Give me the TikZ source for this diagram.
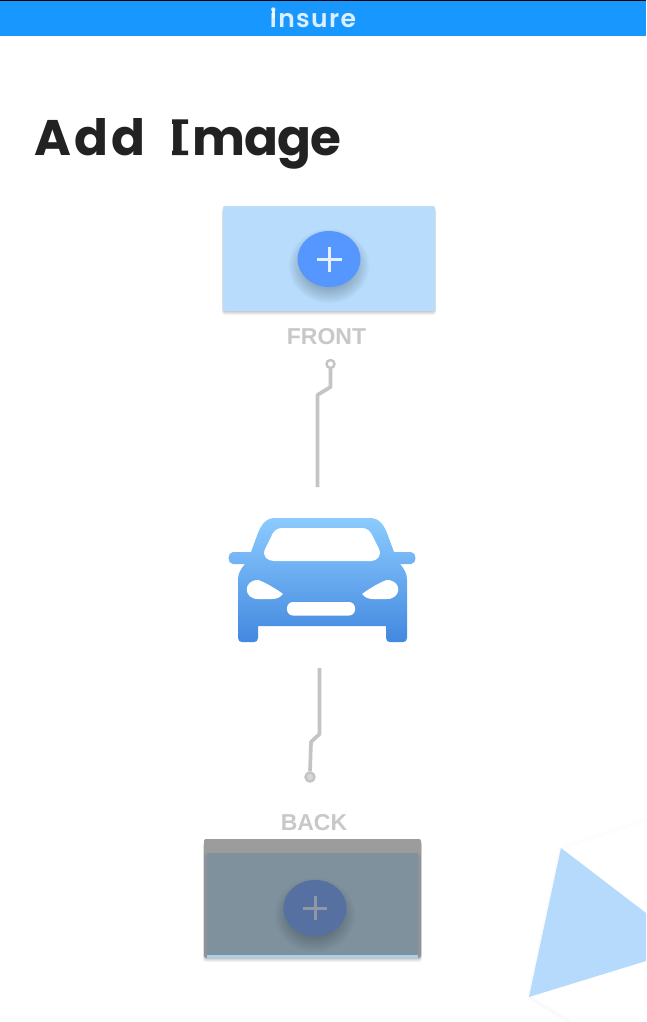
\documentclass[tikz,border=0pt]{standalone}
\usepackage{fontspec}
\setmainfont{Liberation Sans}
\newfontfamily\titlefont{Poppins}
\newfontfamily\brandfont{Poppins SemiBold}[LetterSpace=5.6]
\usetikzlibrary{shapes.geometric}
\definecolor{barblue}{HTML}{1897FF}
\definecolor{cardblue}{HTML}{B8DDFC}
\definecolor{fabblue}{HTML}{5596FF}
\definecolor{wiregray}{HTML}{C4C4C4}
\definecolor{labelgray}{HTML}{C8C8C8}
\definecolor{dimcard}{HTML}{7E919D}
\definecolor{dimedge}{HTML}{8F9399}
\definecolor{dimtop}{HTML}{9C9C9C}
\definecolor{dimfab}{HTML}{5570A1}
\definecolor{dimplus}{HTML}{8E98A6}
\definecolor{carhi}{HTML}{8CCBFF}
\definecolor{carlo}{HTML}{4288DF}
\definecolor{triblue}{HTML}{B5DAFC}
\definecolor{inktitle}{HTML}{222222}
\tikzset{
  x=1pt,y=-1pt,
  wire/.style={draw=wiregray,line width=3.7pt,line join=round},
  pad/.style={circle,draw=wiregray,line width=2.4pt,fill=white,inner sep=0pt,minimum size=8pt},
  sidelabel/.style={text=labelgray,font=\bfseries\fontsize{23}{23}\selectfont,inner sep=0pt},
  fab/.style={ellipse,inner sep=0pt,minimum width=63pt,minimum height=56pt},
  plusmark/.style={line width=3pt},
}
\newcommand{\softrect}[4]{%
  \foreach \s in {1,...,5}{
    \fill[black,opacity=0.045,rounded corners=3pt] (#1-\s*0.2,#2+\s*0.5) rectangle (#3+\s*0.2,#4+\s*0.8);
  }}
\newcommand{\softfab}[3]{%
  \foreach \s in {1,...,12}{
    \fill[black,opacity=#3] (#1,#2+7) ellipse [x radius=21+\s*1.6,y radius=18+\s*1.6];
  }}
\begin{document}
\begin{tikzpicture}
\useasboundingbox (0,0) rectangle (646,1022);
\fill[white] (0,0) rectangle (646,1022);
% header
\fill[barblue] (0,0) rectangle (646,36.5);
\fill[black] (0,0) rectangle (646,1.2);
\node[text=white,opacity=0.85,font=\brandfont\fontsize{25}{25}\selectfont,inner sep=0pt,anchor=base] (brand) at (313,28) {insure};
\draw[white,opacity=.85,line width=3pt] (273,10) -- (273,18);
% title
\node[text=inktitle,font=\titlefont\bfseries\fontsize{50}{50}\selectfont,inner sep=0pt,anchor=base west] (title) at (34,155) {A\kern3pt d\kern3pt d\hspace{15pt} I\kern7pt m\kern-1pt a\kern-1pt g\kern-1pt e};
\fill[inktitle] (172,119.5) rectangle (188,124) (172,150.5) rectangle (188,155);
% front card
\softrect{223}{206}{435}{311}
\node[fill=cardblue,rounded corners=2pt,inner sep=0pt,minimum width=212pt,minimum height=105pt] (frontcard) at (329,258.5) {};
\softfab{329}{259}{0.024}
\node[fab,fill=fabblue] (frontfab) at (329,259) {};
\draw[plusmark,white,opacity=.85] (frontfab.center) ++(-12.5,0) -- ++(25,0) (frontfab.center) ++(0,-12.5) -- ++(0,25);
\node[sidelabel] (frontlabel) at (326.5,337) {FRONT};
% front wire
\node[pad] (frontpad) at (330.5,364) {};
\coordinate (frontend) at (317.5,487);
\draw[wire] (frontpad.south) -- (330.5,387) -- (317.5,395) -- (frontend);
% car
\shade[top color=carhi,bottom color=carlo]
  (275,518) -- (370,518)
  .. controls (380,518) and (384,526) .. (387,533)
  -- (394,552) -- (411,552)
  .. controls (417,552) and (417,564) .. (411,564)
  -- (400,564)
  .. controls (405,570) and (407,574) .. (407,580)
  -- (407,638) .. controls (407,641) and (405,642) .. (403,642)
  -- (390,642) .. controls (388,642) and (386,641) .. (386,638)
  -- (386,626) -- (258,626) -- (258,638)
  .. controls (258,641) and (256,642) .. (254,642)
  -- (242,642) .. controls (240,642) and (238,641) .. (238,638)
  -- (238,580)
  .. controls (238,574) and (240,570) .. (245,564)
  -- (233,564)
  .. controls (227,564) and (227,552) .. (233,552)
  -- (251,552) -- (258,533)
  .. controls (261,526) and (265,518) .. (275,518) -- cycle;
\fill[white] (282,528) -- (362,528)
  .. controls (368,528) and (371,532) .. (373,537)
  -- (379,549) .. controls (382,556) and (377,561) .. (371,561)
  -- (274,561) .. controls (267,561) and (262,556) .. (265,549)
  -- (271,537) .. controls (273,532) and (276,528) .. (282,528) -- cycle;
\fill[white] (258,580) .. controls (263,581) and (278,590) .. (283,594)
  .. controls (280,597) and (278,599) .. (272,599)
  -- (258,599) .. controls (243,599) and (243,580) .. (258,580) -- cycle;
\fill[white] (387,580) .. controls (382,581) and (367,590) .. (362,594)
  .. controls (365,597) and (367,599) .. (373,599)
  -- (387,599) .. controls (402,599) and (402,580) .. (387,580) -- cycle;
\fill[white,rounded corners=6pt] (287,602) rectangle (355,615.5);
% back wire
\coordinate (backstart) at (319.5,668);
\node[circle,draw=wiregray,line width=2.4pt,fill=wiregray!70,inner sep=0pt,minimum size=9pt] (backpad) at (310,777) {};
\draw[wire] (backstart) -- (319.5,734) -- (311,742) -- (backpad.north);
\node[sidelabel] (backlabel) at (314,822.5) {BACK};
% back card
\softrect{204}{840}{421}{958}
\node[fill=dimedge,rounded corners=2.5pt,inner sep=0pt,minimum width=217pt,minimum height=119pt] (backcard) at (312.5,898.5) {};
\fill[dimtop,rounded corners=2.5pt] (204,839) rectangle (421,855);
\fill[dimcard] (207,853) rectangle (418,955);
\fill[cardblue!80!dimcard] (207,955) rectangle (418,957.5);
\softfab{315}{908}{0.02}
\node[fab,fill=dimfab] (backfab) at (315,908) {};
\draw[plusmark,dimplus] (backfab.center) ++(-12,0) -- ++(24,0) (backfab.center) ++(0,-12) -- ++(0,24);
% triangle and faint sheet
\foreach \s in {1,...,3}{
  \draw[black,opacity=0.004,line width=\s*1.6pt] (561,848) -- (646,820);
  \draw[black,opacity=0.006,line width=\s*1.6pt] (529,997) -- (570,1022);
  \draw[black,opacity=0.006,line width=\s*1.6pt] (529,997) -- (561,848);
}
\fill[triblue] (561,848) -- (646,913) -- (646,961) -- (529,997) -- cycle;
\end{tikzpicture}
\end{document}
